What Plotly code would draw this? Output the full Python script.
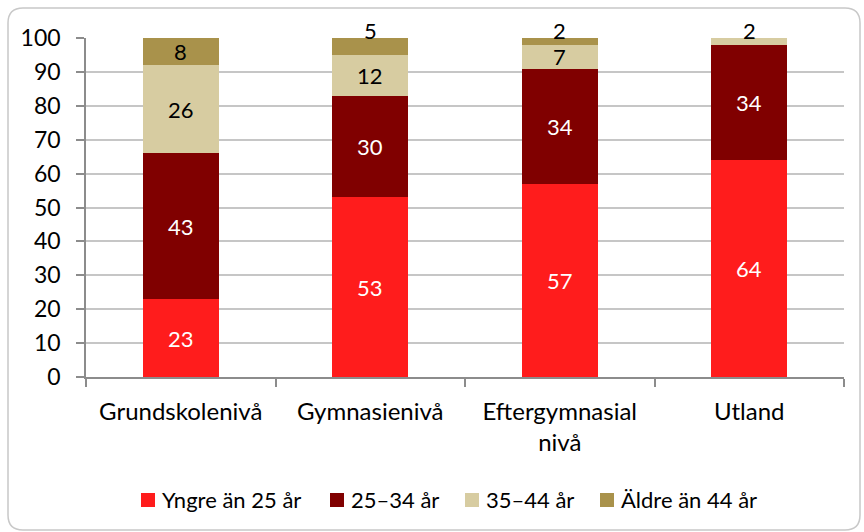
import plotly.graph_objects as go

# Andel per åldersgrupp inom varje utbildningsnivå (procent)
categories = ["Grundskolenivå", "Gymnasienivå", "Eftergymnasial<br>nivå", "Utland"]
yngre_25 = [23, 53, 57, 64]
age_25_34 = [43, 30, 34, 34]
age_35_44 = [26, 12, 7, 2]
aldre_44 = [8, 5, 2, 0]

series_names = ["Yngre än 25 år", "25–34 år", "35–44 år", "Äldre än 44 år"]
series_values = [yngre_25, age_25_34, age_35_44, aldre_44]
series_colors = ["#FF1C1C", "#800000", "#D7CCA1", "#A9924B"]
label_colors = ["white", "white", "black", "black"]

y_ticks = list(range(0, 101, 10))

FONT = "Lato, Carlito, Calibri, sans-serif"

# Pixel geometry of the plot area
L, R, T, B = 86, 20, 38, 155
W, H = 864, 532
pw, ph = W - L - R, H - T - B


def px_x(px):
    return (px - L) / pw


def px_y(py):
    return (H - B - py) / ph


fig = go.Figure()
for name, vals, col in zip(series_names, series_values, series_colors):
    fig.add_trace(go.Bar(
        x=categories, y=vals, name=name,
        marker=dict(color=col, line=dict(width=0)),
        width=0.4, showlegend=False,
    ))

# Value labels: centred in each segment; thin top segments get their label above the bar
annotations = []
for i, cat in enumerate(categories):
    base = 0
    for s, vals in enumerate(series_values):
        v = vals[i]
        if v <= 0:
            continue
        is_top = sum(series_values[k][i] for k in range(s + 1, len(series_values))) == 0
        if v <= 5 and is_top:
            annotations.append(dict(
                x=cat, y=100, text=str(v), showarrow=False, yanchor="middle",
                yshift=8, font=dict(family=FONT, size=22, color="black"),
            ))
        else:
            annotations.append(dict(
                x=cat, y=base + v / 2, text=str(v), showarrow=False,
                font=dict(family=FONT, size=22, color=label_colors[s]),
            ))
        base += v

# Legend row below the chart: coloured squares followed by series names
legend_square_x = [141, 330, 465, 600]
legend_y_top, legend_y_bot = 493, 507
shapes = []
for sx, name, col in zip(legend_square_x, series_names, series_colors):
    shapes.append(dict(
        type="rect", xref="paper", yref="paper",
        x0=px_x(sx), x1=px_x(sx + 14), y0=px_y(legend_y_bot), y1=px_y(legend_y_top),
        fillcolor=col, line=dict(width=0),
    ))
    annotations.append(dict(
        xref="paper", yref="paper", x=px_x(sx + 19), y=px_y(499.5),
        xanchor="left", yanchor="middle", text=name, showarrow=False,
        font=dict(family=FONT, size=22, color="black"),
    ))

# Rounded frame around the chart
x0, x1 = px_x(8), px_x(860)
y0, y1 = px_y(8), px_y(530)
rx, ry = 15 / pw, 15 / ph
frame = (
    f"M {x0 + rx},{y0} L {x1 - rx},{y0} Q {x1},{y0} {x1},{y0 - ry} "
    f"L {x1},{y1 + ry} Q {x1},{y1} {x1 - rx},{y1} "
    f"L {x0 + rx},{y1} Q {x0},{y1} {x0},{y1 + ry} "
    f"L {x0},{y0 - ry} Q {x0},{y0} {x0 + rx},{y0} Z"
)
shapes.append(dict(type="path", path=frame, xref="paper", yref="paper",
                   line=dict(color="#C8C8C8", width=1.5), layer="below"))

fig.update_layout(
    barmode="stack",
    width=W, height=H,
    margin=dict(l=L, r=R, t=T, b=B),
    paper_bgcolor="white", plot_bgcolor="white",
    font=dict(family=FONT, size=23, color="black"),
    showlegend=False,
    annotations=annotations,
    shapes=shapes,
)

fig.update_xaxes(
    type="category", tickson="boundaries", ticks="outside", ticklen=8,
    tickcolor="#8C8C8C", tickwidth=1.5,
    showline=True, linecolor="#8C8C8C", linewidth=1.5,
    showgrid=False, ticklabelstandoff=12,
    tickfont=dict(family=FONT, size=24, color="black"),
)
fig.update_yaxes(
    range=[0, 100], tickvals=y_ticks, ticks="outside", ticklen=8,
    tickcolor="#8C8C8C", tickwidth=1.5,
    showline=True, linecolor="#8C8C8C", linewidth=1.5,
    showgrid=True, gridcolor="#C6C6C6", gridwidth=1.5,
    zeroline=False, ticklabelstandoff=11,
    tickfont=dict(family=FONT, size=23, color="black"),
)

fig.write_html("out.html")
